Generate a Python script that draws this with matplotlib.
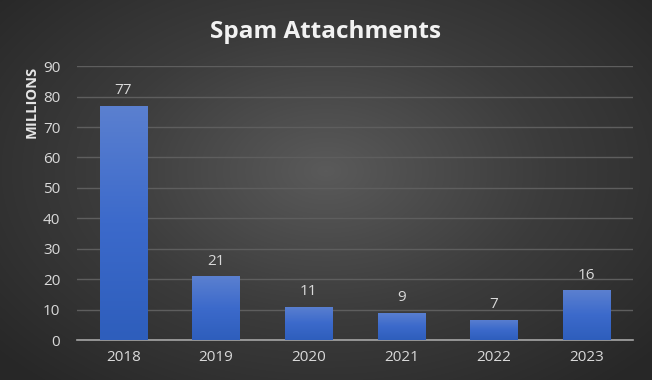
#
# spam attachments per year, dark office-style column chart
#

import numpy as np
import matplotlib
matplotlib.use("Agg")
import matplotlib.pyplot as plt
from matplotlib.colors import LinearSegmentedColormap

years = ["2018", "2019", "2020", "2021", "2022", "2023"]
millions = [77, 21, 11, 9, 6.6, 16.3]
y_ticks = [0, 10, 20, 30, 40, 50, 60, 70, 80, 90]

plt.rcParams['font.family'] = ['Open Sans', 'DejaVu Sans']

fig = plt.figure(figsize=(6.52, 3.80), dpi=100)

# radial grey background over the whole figure
bg = fig.add_axes([0, 0, 1, 1], zorder=-10)
xx, yy = np.meshgrid(np.linspace(-1, 1, 652), np.linspace(-1, 1, 380))
r = np.sqrt((xx * 1.0) ** 2 + ((yy + 0.1) * 0.9) ** 2)
bg_cmap = LinearSegmentedColormap.from_list("bg", ["#5a5a5a", "#3c3c3c", "#272727"])
bg.imshow(r, cmap=bg_cmap, vmin=0, vmax=1.35, aspect="auto", extent=[0, 1, 0, 1])
bg.axis("off")

ax = fig.add_axes([0.118, 0.105, 0.853, 0.721])
ax.patch.set_alpha(0)

x = np.arange(len(years))
bars = ax.bar(x, millions, width=0.51, color="#4472c4", zorder=2)

# vertical gradient inside each bar
bar_cmap = LinearSegmentedColormap.from_list("bar", ["#2e5ebc", "#3c6acb", "#5b80d0"])
grad = np.linspace(0, 1, 256).reshape(-1, 1)
for b in bars:
    x0, w, h = b.get_x(), b.get_width(), b.get_height()
    im = ax.imshow(grad, cmap=bar_cmap, aspect="auto", origin="lower",
                   extent=[x0, x0 + w, 0, h], zorder=3)
    im.set_clip_path(b)

for xi, v in zip(x, millions):
    ax.text(xi, v + 2.5, f"{round(v)}", ha="center", va="bottom",
            color="#d9d9d9", fontsize=11)

ax.set_xlim(-0.5, len(years) - 0.5)
ax.set_ylim(0, 90)
ax.set_yticks(y_ticks)
ax.set_xticks(x)
ax.set_xticklabels(years)
ax.yaxis.grid(True, color="#5e5e5e", linewidth=1, zorder=0)
ax.set_axisbelow(True)
ax.tick_params(axis="both", length=0, colors="#d9d9d9", labelsize=11)
ax.tick_params(axis="x", pad=7)
ax.tick_params(axis="y", pad=12)
for s in ["top", "right", "left"]:
    ax.spines[s].set_visible(False)
ax.spines["bottom"].set_color("#a6a6a6")
ax.spines["bottom"].set_linewidth(1.2)

fig.text(0.049, 1 - 102 / 380, "MILLIONS", rotation=90, ha="center", va="center",
         color="#e6e6e6", fontsize=10.5, fontweight="bold")

fig.text(0.499, 1 - 32 / 380, "Spam Attachments", ha="center", va="center",
         color="#f2f2f2", fontsize=17.5, fontweight="bold")

fig.savefig("out.png", dpi=100)
